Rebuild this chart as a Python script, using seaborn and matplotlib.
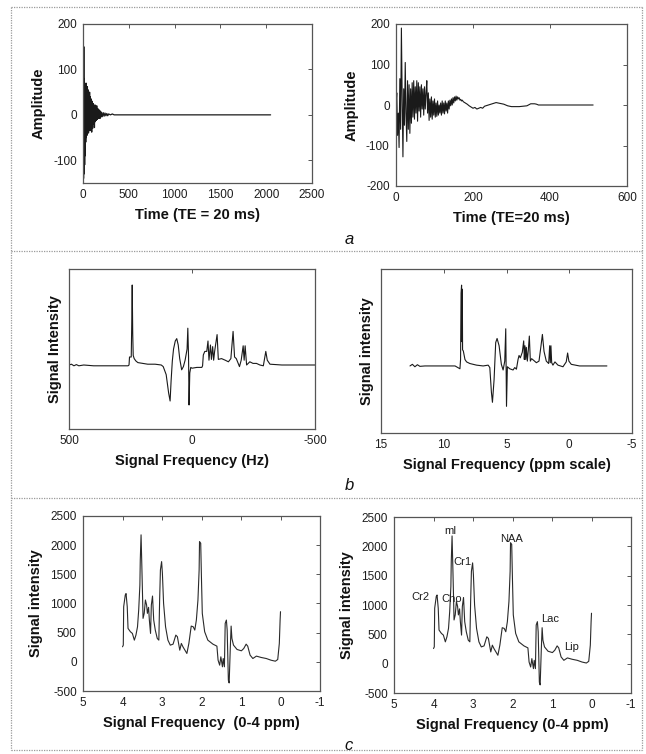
import matplotlib
matplotlib.use("Agg")
import matplotlib.pyplot as plt
import numpy as np
import pandas as pd
import seaborn as sns
from matplotlib.lines import Line2D

# ---- data ----
# a (left): FID, 2048 points
fid_long_t = [0, 3, 6, 9, 12, 15, 18, 21, 24, 27, 30, 33, 36, 40, 44, 48, 52, 56, 60, 64,
              68, 72, 76, 80, 85, 90, 95, 100, 105, 110, 115, 120, 125, 130, 135, 140, 145,
              150, 155, 160, 165, 170, 175, 180, 185, 190, 195, 200, 210, 220, 230, 240,
              250, 260, 270, 280, 300, 320, 340, 2048]
fid_long_amp = [0, 190, -140, 150, -130, 80, -110, 60, -90, 40, -60, 70, -50, 60, -45, 62,
                -30, 55, -40, 45, -20, 50, -35, 40, -25, 35, -38, 30, -30, 25, -20, 20, -28,
                22, -15, 18, -12, 20, -10, 14, -8, 12, -6, 10, -8, 8, -5, 6, -4, 5, -3, 4,
                -2, 3, -2, 2, 0, 2, 0, 0]

# a (right): FID, 512 points
fid_short_t = [0, 2, 4, 6, 8, 10, 12, 14, 16, 18, 20, 22, 24, 26, 28, 30, 32, 34, 36, 38,
               40, 42, 44, 46, 48, 50, 52, 54, 56, 58, 60, 62, 64, 66, 68, 70, 72, 74, 76,
               78, 80, 82, 84, 86, 88, 90, 92, 94, 96, 98, 100, 102, 104, 106, 108, 110,
               112, 114, 116, 118, 120, 122, 124, 126, 128, 130, 132, 134, 136, 138, 140,
               142, 144, 146, 148, 150, 152, 154, 156, 158, 160, 162, 164, 166, 168, 170,
               172, 175, 180, 185, 190, 195, 200, 205, 210, 215, 220, 225, 230, 240, 250,
               260, 265, 270, 280, 290, 300, 310, 320, 330, 340, 350, 360, 365, 370, 512]
fid_short_amp = [0, 30, -75, -20, -105, 65, -60, 190, 20, -128, 40, -50, 105, -20, -90, 60,
                 -60, 50, -70, 40, -45, 55, -30, 60, -35, 45, -20, 60, -40, 55, -15, 45, -30,
                 50, -10, 40, -25, 45, -10, 30, 60, -20, 30, -38, 15, -30, 20, -35, 10, -25,
                 15, -30, 5, -28, 10, -25, 0, -20, 5, -25, 10, -20, 5, -22, 10, -15, 5, -20,
                 10, -10, 12, -2, 15, 0, 18, 5, 20, 10, 22, 12, 20, 15, 18, 12, 14, 10, 12,
                 8, 5, 2, -2, -5, -8, -6, -10, -8, -6, -8, -3, 0, 3, 6, 5, 4, 2, -2, -4, -4,
                 -4, -3, -2, 3, 3, 2, 0, 0]

# b (left): spectrum vs Hz (arbitrary intensity)
spec_hz = [500, 490, 480, 470, 460, 440, 400, 300, 260, 256, 254, 247, 245, 243, 241, 239,
           235, 228, 220, 200, 180, 150, 125, 117, 105, 95, 89, 85, 80, 75, 68, 62, 56, 50,
           42, 35, 28, 20, 17, 14, 12, 9, 5, 0, -20, -40, -43, -46, -52, -60, -65, -69, -75,
           -79, -84, -88, -92, -102, -107, -120, -135, -148, -158, -167, -173, -180, -193,
           -200, -208, -212, -216, -222, -235, -248, -262, -276, -290, -300, -306, -317,
           -365, -500]
spec_hz_int = [0.0, 0.01, -0.01, 0.005, -0.01, 0.0, -0.01, -0.01, -0.01, 0.0, 0.1, 0.1,
               0.5, 1.0, 0.4, 0.12, 0.08, 0.05, 0.03, 0.02, 0.01, 0.01, 0.0, -0.02, -0.12,
               -0.35, -0.45, -0.2, 0.05, 0.2, 0.3, 0.33, 0.25, 0.08, -0.06, -0.02, 0.06, 0.2,
               0.46, 0.1, -0.5, -0.1, -0.03, -0.04, -0.03, -0.03, -0.01, 0.125, 0.17, 0.17,
               0.3, 0.06, 0.25, 0.07, 0.23, 0.06, 0.17, 0.38, 0.07, 0.08, 0.06, 0.04, 0.08,
               0.42, 0.1, 0.08, -0.02, 0.06, 0.24, 0.06, 0.24, 0.0, 0.04, 0.02, 0.02, 0.0,
               -0.01, 0.17, 0.06, 0.01, 0.0, 0.0]

# b (right): spectrum vs ppm (arbitrary intensity)
spec_ppm = [12.69, 12.5, 12.3, 12.1, 11.9, 11.5, 9.1, 8.71, 8.66, 8.62, 8.58, 8.55, 8.52,
            8.5, 8.44, 8.31, 8.18, 7.92, 7.39, 6.86, 6.46, 6.33, 6.2, 6.12, 5.99, 5.86,
            5.75, 5.59, 5.41, 5.27, 5.14, 5.06, 5.0, 4.93, 4.74, 4.48, 4.34, 4.21, 4.08,
            4.0, 3.9, 3.74, 3.63, 3.58, 3.53, 3.47, 3.42, 3.34, 3.26, 3.18, 3.1, 3.0, 2.84,
            2.62, 2.41, 2.25, 2.14, 2.01, 1.83, 1.64, 1.56, 1.51, 1.46, 1.4, 1.3, 1.14, 0.9,
            0.5, 0.24, 0.13, 0.03, -0.16, -0.82, -3.0]
spec_ppm_int = [0.0, 0.02, -0.01, 0.015, -0.005, 0.0, 0.0, -0.035, 0.08, 0.9, 1.0, 0.3,
                0.95, 0.2, 0.185, 0.08, 0.05, 0.03, 0.01, 0.0, 0.01, -0.02, -0.33, -0.45,
                -0.17, 0.29, 0.34, 0.25, 0.02, -0.05, 0.06, 0.46, -0.5, -0.01, -0.035, -0.05,
                -0.02, -0.04, 0.08, 0.13, 0.1, 0.17, 0.31, 0.08, 0.25, 0.08, 0.23, 0.06, 0.2,
                0.37, 0.06, 0.09, 0.07, 0.04, 0.06, 0.25, 0.39, 0.18, 0.06, 0.03, 0.25, 0.04,
                0.25, 0.04, 0.01, 0.05, 0.01, -0.01, 0.05, 0.16, 0.06, 0.02, 0.0, 0.0]

# c: spectrum 0-4 ppm
roi_ppm = [4.0, 3.98, 3.97, 3.93, 3.91, 3.88, 3.86, 3.8, 3.75, 3.7, 3.66, 3.62, 3.59, 3.56,
           3.55, 3.53, 3.51, 3.49, 3.48, 3.45, 3.42, 3.39, 3.37, 3.34, 3.32, 3.29, 3.27,
           3.24, 3.21, 3.17, 3.12, 3.08, 3.06, 3.04, 3.01, 2.99, 2.96, 2.91, 2.85, 2.79,
           2.72, 2.65, 2.61, 2.55, 2.51, 2.47, 2.37, 2.32, 2.26, 2.21, 2.17, 2.13, 2.09,
           2.06, 2.05, 2.02, 2.0, 1.98, 1.92, 1.84, 1.71, 1.61, 1.58, 1.54, 1.51, 1.47,
           1.45, 1.42, 1.4, 1.37, 1.35, 1.32, 1.3, 1.27, 1.25, 1.23, 1.19, 1.1, 0.99, 0.93,
           0.87, 0.83, 0.77, 0.7, 0.61, 0.49, 0.36, 0.24, 0.13, 0.07, 0.03, 0.01, 0.0]
roi_int = [258, 286, 945, 1146, 1170, 945, 573, 516, 487, 372, 458, 601, 888, 1317, 1747,
           2177, 1633, 1060, 745, 831, 1060, 974, 831, 934, 716, 487, 974, 1128, 716, 544,
           401, 372, 1060, 1575, 1718, 1518, 1003, 601, 372, 286, 303, 458, 430, 200, 315,
           258, 143, 315, 613, 601, 544, 716, 1060, 1575, 2062, 2033, 1404, 831, 516, 372,
           303, 269, 28, -57, 86, -85, 57, -85, 659, 716, 544, -316, -362, 258, 613, 401,
           286, 212, 189, 229, 303, 269, 115, 57, 98, 75, 57, 28, 11, 40, 315, 716, 860]

peak_names = ["mI", "NAA", "Cr1", "Cr2", "Cho", "Lac", "Lip"]
peak_ppm = [3.56, 2.02, 3.26, 4.34, 3.54, 1.05, 0.50]
peak_lbl_int = [2260, 2130, 1730, 1135, 1100, 767, 283]

# ---- figure ----
sns.set_theme(style="white")
plt.rcParams["font.family"] = ["Liberation Sans", "DejaVu Sans"]
plt.rcParams["axes.unicode_minus"] = False

W, H = 646, 754
fig = plt.figure(figsize=(W / 100, H / 100), dpi=100)
fig.patch.set_facecolor("white")


def px_axes(x0, y0, x1, y1):
    return fig.add_axes([x0 / W, 1 - y1 / H, (x1 - x0) / W, (y1 - y0) / H])


def style(ax, xlabel, ylabel):
    for s in ax.spines.values():
        s.set_color("#555555")
        s.set_linewidth(0.9)
    ax.tick_params(direction="in", length=3, width=0.7, color="#555555",
                   top=True, right=True, labelsize=8.5, pad=4.5, labelcolor="#1e1e1e")
    ax.set_xlabel(xlabel, fontsize=10.5, fontweight="bold", color="#111111", labelpad=5)
    ax.set_ylabel(ylabel, fontsize=10.5, fontweight="bold", color="#111111", labelpad=5)
    ax.set_facecolor("white")


def trace(ax, x, y, lw=0.8, color="#1a1a1a"):
    df = pd.DataFrame({"x": x, "y": y})
    sns.lineplot(data=df, x="x", y="y", ax=ax, sort=False, estimator=None,
                 color=color, linewidth=lw)


# a left
ax = px_axes(83, 24, 312, 183)
trace(ax, fid_long_t, fid_long_amp, lw=0.9)
ax.set_xlim(0, 2500)
ax.set_ylim(-150, 200)
ax.set_xticks([0, 500, 1000, 1500, 2000, 2500])
ax.set_yticks([-100, 0, 100, 200])
style(ax, "Time (TE = 20 ms)", "Amplitude")

# a right
ax = px_axes(396, 24, 627, 186)
trace(ax, fid_short_t, fid_short_amp, lw=0.8)
ax.set_xlim(0, 600)
ax.set_ylim(-200, 200)
ax.set_xticks([0, 200, 400, 600])
ax.set_yticks([-200, -100, 0, 100, 200])
style(ax, "Time (TE=20 ms)", "Amplitude")

# b left
ax = px_axes(69, 269, 315, 429)
trace(ax, spec_hz, spec_hz_int, lw=0.8)
ax.set_xlim(500, -500)
ax.set_ylim(-0.8, 1.2)
ax.set_xticks([500, 0, -500])
ax.set_yticks([])
style(ax, "Signal Frequency (Hz)", "Signal Intensity")

# b right
ax = px_axes(381, 269, 632, 433)
trace(ax, spec_ppm, spec_ppm_int, lw=0.8)
ax.set_xlim(15, -5)
ax.set_ylim(-0.83, 1.2)
ax.set_xticks([15, 10, 5, 0, -5])
ax.set_yticks([])
style(ax, "Signal Frequency (ppm scale)", "Signal intensity")

# c left
ax = px_axes(83, 516, 320, 691)
trace(ax, roi_ppm, roi_int, lw=0.8, color="#2a2a2a")
ax.set_xlim(5, -1)
ax.set_ylim(-500, 2500)
ax.set_xticks([5, 4, 3, 2, 1, 0, -1])
ax.set_yticks([-500, 0, 500, 1000, 1500, 2000, 2500])
style(ax, "Signal Frequency  (0-4 ppm)", "Signal intensity")

# c right
ax = px_axes(394, 517, 631, 693)
trace(ax, roi_ppm, roi_int, lw=0.8, color="#2a2a2a")
ax.set_xlim(5, -1)
ax.set_ylim(-500, 2500)
ax.set_xticks([5, 4, 3, 2, 1, 0, -1])
ax.set_yticks([-500, 0, 500, 1000, 1500, 2000, 2500])
for name, xp, yp in zip(peak_names, peak_ppm, peak_lbl_int):
    ax.text(xp, yp, name, ha="center", va="center", fontsize=8, color="#1e1e1e")
style(ax, "Signal Frequency (0-4 ppm)", "Signal intensity")

# panel letters
for letter, y in [("a", 239), ("b", 486), ("c", 745)]:
    fig.text(349 / W, 1 - y / H, letter, fontsize=12, style="italic",
             ha="center", va="center", color="#111111")

# dotted panel frames
frame_kw = dict(color="#9a9a9a", linewidth=0.9, linestyle=(0, (1, 1)),
                transform=fig.transFigure)
for yb in [7, 251, 498, 750]:
    fig.add_artist(Line2D([11 / W, 642 / W], [1 - yb / H, 1 - yb / H], **frame_kw))
for xb in [11, 642]:
    fig.add_artist(Line2D([xb / W, xb / W], [1 - 7 / H, 1 - 750 / H], **frame_kw))

fig.savefig("out.png", dpi=100, facecolor="white")
